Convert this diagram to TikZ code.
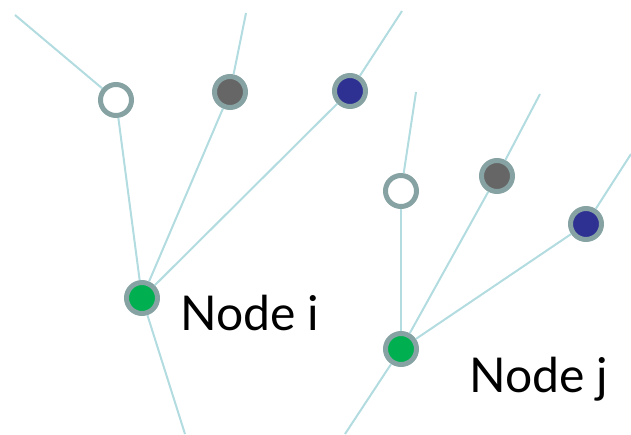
\documentclass[tikz,border=0pt]{standalone}
\usepackage{fontspec}
\setmainfont{Lato}
\begin{document}
\begin{tikzpicture}[x=1pt,y=-1pt,
  link/.style={draw=linkc,line width=2pt},
  dot/.style={circle,draw=ringc,line width=5pt,minimum size=31pt,inner sep=0pt},
  label/.style={font=\fontsize{48}{48}\selectfont,anchor=base west,inner sep=0pt}]
\definecolor{linkc}{HTML}{B2DCE0}
\definecolor{ringc}{HTML}{87A2A3}
\definecolor{greenc}{HTML}{00B050}
\definecolor{grayc}{HTML}{666666}
\definecolor{bluec}{HTML}{2E3192}
\useasboundingbox (0,0) rectangle (631,434);
% free ends of the branches
\coordinate (ti) at (185,434);
\coordinate (tj) at (345,434);
\coordinate (e1) at (15,15);
\coordinate (e2) at (246,13);
\coordinate (e3) at (402,11);
\coordinate (e4) at (416,92);
\coordinate (e5) at (540,94);
\coordinate (e6) at (631,154);
% nodes
\node[dot,fill=greenc] (ni) at (142,298) {};
\node[dot,fill=white] (a1) at (116,100) {};
\node[dot,fill=grayc] (b1) at (230,92) {};
\node[dot,fill=bluec] (c1) at (350,91) {};
\node[dot,fill=greenc] (nj) at (401,349) {};
\node[dot,fill=white] (a2) at (401,191) {};
\node[dot,fill=grayc] (b2) at (497,176) {};
\node[dot,fill=bluec] (c2) at (586,224) {};
% branches
\draw[link] (ni) -- (ti);
\draw[link] (ni) -- (a1); \draw[link] (a1) -- (e1);
\draw[link] (ni) -- (b1); \draw[link] (b1) -- (e2);
\draw[link] (ni) -- (c1); \draw[link] (c1) -- (e3);
\draw[link] (nj) -- (tj);
\draw[link] (nj) -- (a2); \draw[link] (a2) -- (e4);
\draw[link] (nj) -- (b2); \draw[link] (b2) -- (e5);
\draw[link] (nj) -- (c2); \draw[link] (c2) -- (e6);
% labels
\node[label] (li) at (180,330) {Node i};
\node[label] (lj) at (469,392) {Node j};
\end{tikzpicture}
\end{document}
